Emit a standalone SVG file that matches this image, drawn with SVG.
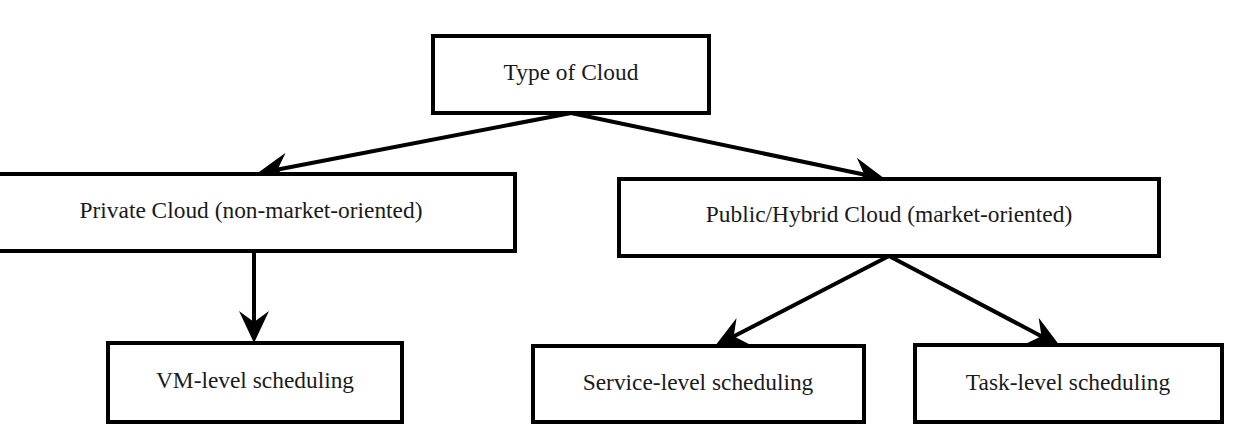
<svg xmlns="http://www.w3.org/2000/svg" width="1233" height="426" viewBox="0 0 1233 426">
  <style>
    .box { fill: #ffffff; stroke: #000000; stroke-width: 4; }
    .lbl { font-family: "Liberation Serif", "Times New Roman", serif; font-size: 23.4px; fill: #1a1a1a; text-anchor: middle; }
    .conn { stroke: #000000; stroke-width: 4; fill: none; marker-end: url(#arrow); }
  </style>
  <defs>
    <marker id="arrow" markerUnits="userSpaceOnUse" viewBox="-22 -17 36 34" markerWidth="36" markerHeight="34" refX="0" refY="0" orient="auto">
      <path d="M12,0 L-20,-15 L-9,0 L-20,15 Z" fill="#000000"/>
    </marker>
  </defs>
  <rect width="1233" height="426" fill="#ffffff"/>
  <g id="connectors">
    <line class="conn" x1="571" y1="113" x2="268.8" y2="171.2"/>
    <line class="conn" x1="571" y1="113" x2="873.3" y2="176.5"/>
    <line class="conn" x1="254" y1="251" x2="254" y2="331"/>
    <line class="conn" x1="889" y1="256" x2="725.7" y2="340.5"/>
    <line class="conn" x1="889" y1="256" x2="1049.4" y2="340.4"/>
  </g>
  <g id="node-type">
    <rect class="box" x="433" y="36" width="276" height="77"/>
    <text class="lbl" x="571" y="80">Type of Cloud</text>
  </g>
  <g id="node-private">
    <rect class="box" x="-13" y="174" width="528" height="77"/>
    <text class="lbl" x="251" y="218">Private Cloud (non-market-oriented)</text>
  </g>
  <g id="node-public">
    <rect class="box" x="619" y="179" width="540" height="77"/>
    <text class="lbl" x="889" y="222">Public/Hybrid Cloud (market-oriented)</text>
  </g>
  <g id="node-vm">
    <rect class="box" x="108" y="343" width="294" height="79"/>
    <text class="lbl" x="255" y="388">VM-level scheduling</text>
  </g>
  <g id="node-service">
    <rect class="box" x="533" y="346" width="331" height="76"/>
    <text class="lbl" x="698" y="390">Service-level scheduling</text>
  </g>
  <g id="node-task">
    <rect class="box" x="915" y="345" width="307" height="77"/>
    <text class="lbl" x="1068" y="390">Task-level scheduling</text>
  </g>
</svg>
